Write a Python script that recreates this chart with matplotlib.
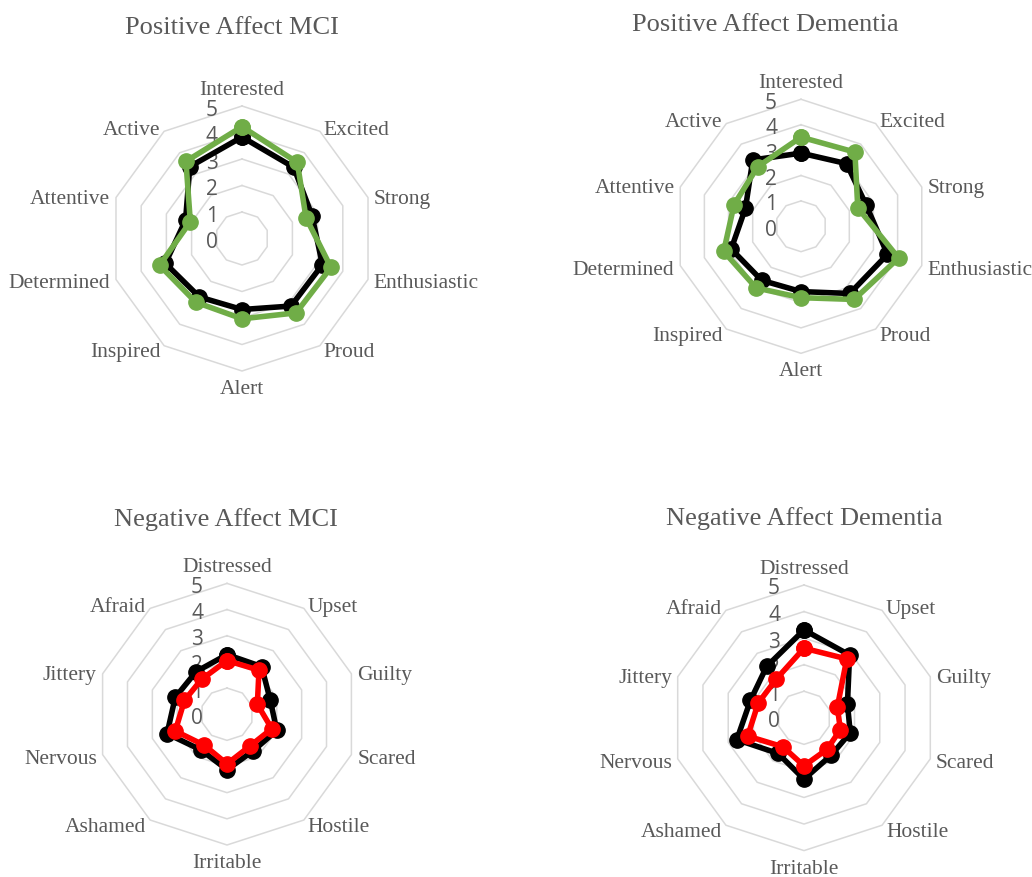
import numpy as np
import matplotlib
matplotlib.use("Agg")
import matplotlib.pyplot as plt

# ---------------- data ----------------
pos_cats = ['Interested', 'Excited', 'Strong', 'Enthusiastic', 'Proud',
            'Alert', 'Inspired', 'Determined', 'Attentive', 'Active']
neg_cats = ['Distressed', 'Upset', 'Guilty', 'Scared', 'Hostile',
            'Irritable', 'Ashamed', 'Nervous', 'Jittery', 'Afraid']

pos_mci_black = [3.83, 3.32, 2.78, 3.19, 3.15, 2.68, 2.73, 3.04, 2.24, 3.35]
pos_mci_green = [4.22, 3.55, 2.54, 3.53, 3.47, 3.03, 2.97, 3.27, 2.05, 3.60]
pos_dem_black = [2.88, 3.05, 2.70, 3.58, 3.27, 2.57, 2.63, 2.89, 2.30, 3.23]
pos_dem_green = [3.51, 3.61, 2.35, 4.04, 3.56, 2.81, 3.00, 3.20, 2.77, 2.90]
neg_mci_black = [2.28, 2.25, 1.74, 2.00, 1.72, 2.12, 1.69, 2.41, 2.08, 2.01]
neg_mci_red = [2.05, 2.08, 1.22, 1.80, 1.50, 1.90, 1.47, 2.08, 1.71, 1.65]
neg_dem_black = [3.31, 2.92, 1.72, 1.83, 1.74, 2.31, 1.66, 2.66, 2.12, 2.39]
neg_dem_red = [2.62, 2.74, 1.32, 1.44, 1.47, 1.81, 1.35, 2.23, 1.81, 1.79]

ticks = [0, 1, 2, 3, 4, 5]
titles = ['Positive Affect MCI', 'Positive Affect Dementia',
          'Negative Affect MCI', 'Negative Affect Dementia']

# ---------------- style ----------------
W, H = 1032, 877
GRAY_TXT = '#595959'
GRID = '#d9d9d9'
GREEN = '#70AD47'
RED = '#FF0000'
BLACK = '#000000'
SERIF = 'Liberation Serif'
SANS = 'Open Sans'

fig = plt.figure(figsize=(W / 100, H / 100), dpi=100)
fig.patch.set_facecolor('white')


def radar(cx, cy, R, cats, s_black, s_color, color, title, txy):
    ax = fig.add_axes([(cx - R) / W, (H - cy - R) / H, 2 * R / W, 2 * R / H],
                      projection='polar')
    ax.set_theta_zero_location('N')
    ax.set_theta_direction(-1)
    ax.set_ylim(0, 5)
    ax.axis('off')
    n = len(cats)
    theta = np.linspace(0, 2 * np.pi, n, endpoint=False)
    tc = np.append(theta, theta[0])
    for r in ticks[1:]:
        ax.plot(tc, [r] * (n + 1), color=GRID, lw=1.1, zorder=1, clip_on=False)
    for vals, col in ((s_black, BLACK), (s_color, color)):
        v = np.append(vals, vals[0])
        ax.plot(tc, v, color=col, lw=4.0, marker='o', ms=11,
                solid_joinstyle='round', zorder=3, clip_on=False)
    # category labels
    d = 5
    for th, lab in zip(theta, cats):
        deg = np.degrees(th)
        if abs(deg) < 1e-6:
            ha, va, off = 'center', 'baseline', (0, 11)
        elif abs(deg - 180) < 1e-6:
            ha, va, off = 'center', 'top', (0, -9)
        elif deg < 180:
            ha, va = 'left', 'center'
            off = (d * np.sin(th) + 1, d * np.cos(th) - 3)
        else:
            ha, va = 'right', 'center'
            off = (d * np.sin(th) - 1, d * np.cos(th) - 3)
        ax.annotate(lab, (th, 5), xytext=off, textcoords='offset pixels',
                    ha=ha, va=va, fontsize=15.5, family=SERIF, color=GRAY_TXT,
                    annotation_clip=False)
    # value tick labels
    for t in ticks:
        ax.annotate(str(t), (0, t), xytext=(-30, -4), textcoords='offset pixels',
                    ha='center', va='center', fontsize=15, family=SANS,
                    color=GRAY_TXT, annotation_clip=False, zorder=2)
    fig.text(txy[0] / W, 1 - txy[1] / H, title, ha='center', va='center',
             fontsize=19, family=SERIF, color=GRAY_TXT)
    return ax


radar(242, 238.5, 132.5, pos_cats, pos_mci_black, pos_mci_green, GREEN,
      titles[0], (232, 28))
radar(801, 226.3, 127, pos_cats, pos_dem_black, pos_dem_green, GREEN,
      titles[1], (765, 25))
radar(227, 714.2, 130.8, neg_cats, neg_mci_black, neg_mci_red, RED,
      titles[2], (226, 520))
radar(804, 717.8, 132.8, neg_cats, neg_dem_black, neg_dem_red, RED,
      titles[3], (804, 519))

fig.savefig('out.png', dpi=100, facecolor='white')
